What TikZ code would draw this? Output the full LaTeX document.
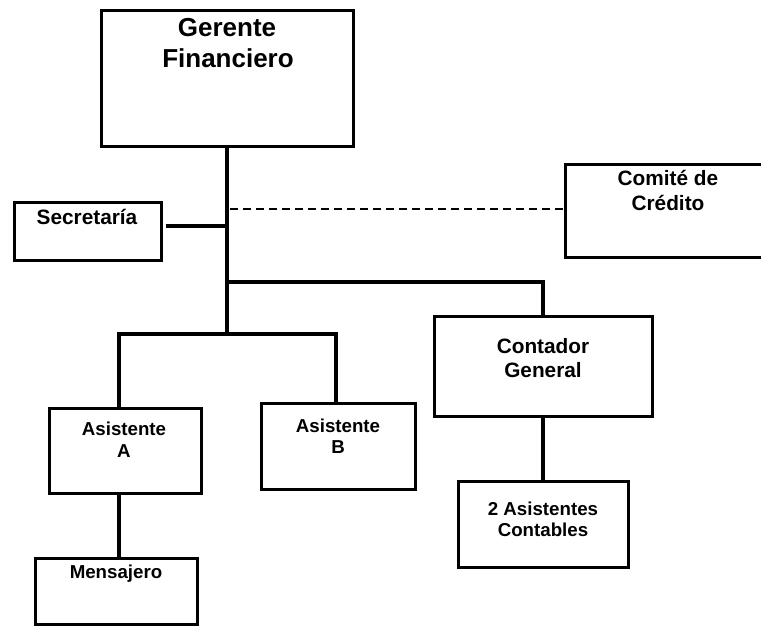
\documentclass[tikz,border=0pt]{standalone}
\usepackage{fontspec}
\setmainfont{Liberation Sans}
\begin{document}
\begin{tikzpicture}[x=1pt,y=-1pt,
  box/.style={draw, line width=3pt, inner sep=0pt},
  conn/.style={line width=3.8pt},
  dashconn/.style={line width=1.4pt, dash pattern=on 8pt off 5pt},
  big/.style={font=\fontsize{26}{29}\selectfont\bfseries, anchor=base, inner sep=0pt},
  mid/.style={font=\fontsize{20.8}{23}\selectfont\bfseries, anchor=base, inner sep=0pt},
  sml/.style={font=\fontsize{18.7}{21}\selectfont\bfseries, anchor=base, inner sep=0pt}]
\useasboundingbox (0,0) rectangle (761,626);
% boxes
\node[box, minimum width=252pt, minimum height=135pt] (gf) at (227,78.5) {};
\node[box, minimum width=147pt, minimum height=58pt] (sec) at (87.5,231) {};
\node[box, minimum width=205pt, minimum height=93pt] (com) at (667.5,210.5) {};
\node[box, minimum width=218pt, minimum height=100pt] (con) at (543,366) {};
\node[box, minimum width=152pt, minimum height=85pt] (asA) at (125,450.5) {};
\node[box, minimum width=154pt, minimum height=86pt] (asB) at (338,446) {};
\node[box, minimum width=170pt, minimum height=86pt] (two) at (543,524) {};
\node[box, minimum width=162pt, minimum height=66pt] (men) at (116,591) {};
% texts
\node[big] (gf1) at (227,37) {Gerente};
\node[big] (gf2) at (228,68) {Financiero};
\node[mid] (sec1) at (87,224) {Secretaría};
\node[mid] (com1) at (668,185) {Comité de};
\node[mid] (com2) at (668,210) {Crédito};
\node[mid] (con1) at (543,353) {Contador};
\node[mid] (con2) at (543,377) {General};
\node[sml] (asA1) at (124,435) {Asistente};
\node[sml] (asA2) at (124,457) {A};
\node[sml] (asB1) at (338,432) {Asistente};
\node[sml] (asB2) at (338,453) {B};
\node[sml] (two1) at (543,515) {2 Asistentes};
\node[sml] (two2) at (543,536) {Contables};
\node[sml] (men1) at (116,578) {Mensajero};
% junctions
\coordinate (jsec) at (227,226);
\coordinate (jcom) at (230,209);
\coordinate (jcon) at (227,282);
\coordinate (jas) at (227,334);
\coordinate (xA) at (119,0);
\coordinate (xB) at (336,0);
% connectors
\draw[conn] ([yshift=3pt]gf.south) -- (jas);
\draw[conn] ([xshift=3pt]sec.east |- jsec) -- (jsec);
\draw[dashconn] (jcom) -- (com.west |- jcom);
\draw[conn] (jcon) -| (con.north);
\draw[conn] (asA.north -| xA) |- (jas) -| (asB.north -| xB);
\draw[conn] (asA.south -| xA) -- (men.north -| xA);
\draw[conn] (con.south) -- (two.north);
\end{tikzpicture}
\end{document}
